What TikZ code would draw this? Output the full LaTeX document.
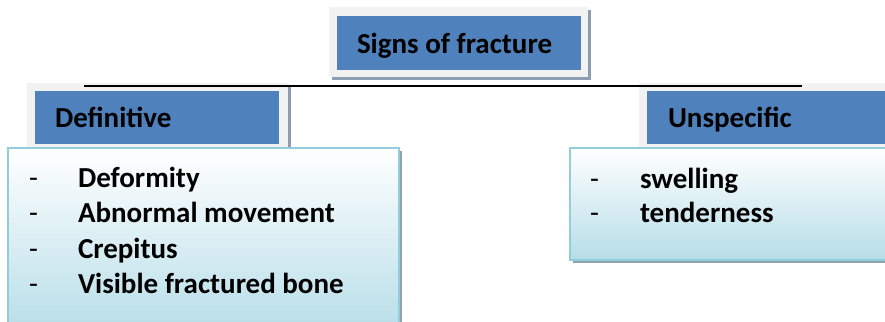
\documentclass[tikz,border=0pt]{standalone}
\usepackage{fontspec}
\setmainfont{Carlito}
\definecolor{hdblue}{HTML}{4F81BD}
\definecolor{framegray}{HTML}{F2F2F2}
\definecolor{shadowgray}{HTML}{8C9DB4}
\definecolor{listborder}{HTML}{93CDDD}
\definecolor{listbottom}{HTML}{B6DDE8}
\definecolor{listshadow}{HTML}{8FA3AD}
\tikzset{
  rbox/.style={inner sep=0pt, outer sep=0pt, anchor=north west},
  shadowbox/.style={rbox, fill=shadowgray},
  framebox/.style={rbox, fill=framegray},
  bluebox/.style={rbox, fill=hdblue},
  listshadowbox/.style={rbox, fill=listshadow},
  listbox/.style={rbox, draw=listborder, line width=1.5pt, top color=white, bottom color=listbottom},
  txt/.style={inner sep=0pt, outer sep=0pt, anchor=base west, font=\fontsize{29}{35}\selectfont\bfseries},
  dashtxt/.style={inner sep=0pt, outer sep=0pt, anchor=base west, font=\fontsize{29}{35}\selectfont},
  hline/.style={line width=2pt, black}
}
\newcommand{\boxat}[5]{\node[#1, minimum width=#4pt, minimum height=#5pt] (#2) at #3 {};}
\begin{document}
\begin{tikzpicture}[x=1pt,y=-1pt]
\useasboundingbox (0,0) rectangle (885,321);
\clip (0,0) rectangle (885,321);
% title
\boxat{shadowbox}{titleshadow}{(332,10)}{259}{70}
\boxat{framebox}{titleframe}{(329,7)}{259}{70}
\boxat{bluebox}{titlebox}{(337,16)}{244}{54}
% definitive header
\boxat{shadowbox}{defshadow}{(30,86)}{261}{67}
\boxat{framebox}{defframe}{(27,83)}{261}{67}
% unspecific header
\boxat{shadowbox}{unsshadow}{(642,86)}{260}{67}
\boxat{framebox}{unsframe}{(639,83)}{260}{67}
% connector line
\coordinate (lineL) at (84,86);
\coordinate (lineR) at (802,86);
\draw[hline] (lineL) -- (lineR);
\boxat{bluebox}{defbox}{(35,91)}{244}{53}
\boxat{bluebox}{unsbox}{(647,91)}{250}{53}
% lists
\boxat{listshadowbox}{deflistshadow}{(11,151)}{391}{190}
\boxat{listbox}{deflist}{(8,148)}{391}{187}
\boxat{listshadowbox}{unslistshadow}{(573,151)}{330}{112}
\boxat{listbox}{unslist}{(570,148)}{330}{112}
% texts
\node[txt] (ttitle) at (357,53) {Signs of fracture};
\node[txt] (tdef) at (55,127) {Definitive};
\node[txt] (tuns) at (668,127) {Unspecific};
\node[dashtxt] (d1) at (29,187) {-};
\node[dashtxt] (d2) at (29,222.5) {-};
\node[dashtxt] (d3) at (29,258) {-};
\node[dashtxt] (d4) at (29,293) {-};
\node[txt] (l1) at (78,187) {Deformity};
\node[txt] (l2) at (78,222.5) {Abnormal movement};
\node[txt] (l3) at (78,258) {Crepitus};
\node[txt] (l4) at (78,293) {Visible fractured bone};
\node[dashtxt] (d5) at (590,188) {-};
\node[dashtxt] (d6) at (590,222.5) {-};
\node[txt] (r1) at (640,188) {swelling};
\node[txt] (r2) at (640,222.5) {tenderness};
\end{tikzpicture}
\end{document}
